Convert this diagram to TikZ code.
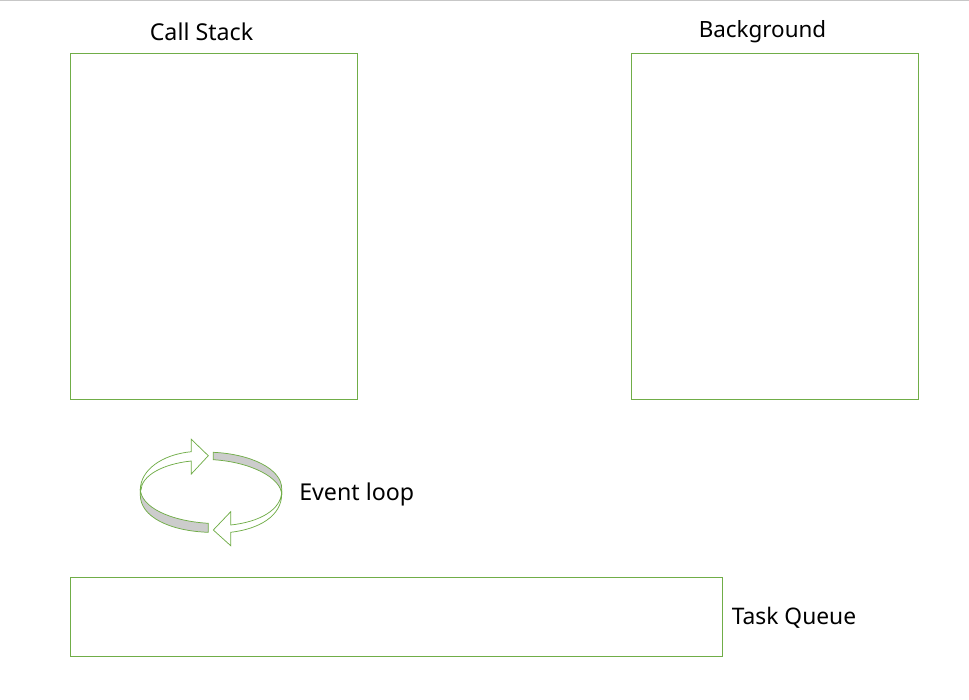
\documentclass[tikz,border=0pt]{standalone}
\usepackage{fontspec}
\setmainfont{Noto Sans}
\definecolor{boxgreen}{HTML}{70AD47}
\definecolor{bandgray}{HTML}{CCCCCC}
\tikzset{
  panel/.style={draw=boxgreen,line width=0.75pt,fill=white,inner sep=0pt,outer sep=0pt,minimum width=0pt},
  caption/.style={font=\fontsize{17.4pt}{21pt}\selectfont,text=black,inner sep=0pt},
  looparrow/.style={draw=boxgreen,line width=0.55pt,fill=white,line join=miter},
  loopband/.style={draw=boxgreen,line width=0.55pt,fill=bandgray,line join=miter}
}
\begin{document}
\begin{tikzpicture}[x=0.75pt,y=-0.75pt]
\useasboundingbox (0,0) rectangle (969,699);
\fill[white] (0,0) rectangle (969,699);
\fill[black!22] (0,0) rectangle (969,1);
% boxes
\node[panel,anchor=north west,minimum width=215.25pt,minimum height=259.5pt] (stack) at (70.5,53.5) {};
\node[panel,anchor=north west,minimum width=215.25pt,minimum height=259.5pt] (bg) at (631.5,53.5) {};
\node[panel,anchor=north west,minimum width=489pt,minimum height=59.25pt] (queue) at (70.5,577.5) {};
% labels
\node[caption] (stacklabel) at (201.5,32) {Call Stack};
\node[caption,font=\fontsize{16.8pt}{21pt}\selectfont] (bglabel) at (762.5,31.5) {Background};
\node[caption,anchor=west] (looplabel) at (299,494) {Event loop};
\node[caption,anchor=west,font=\fontsize{17.1pt}{21pt}\selectfont] (queuelabel) at (731.5,617.5) {Task Queue};
% cycle icon: bands
\path[loopband] (213.3,452.3) .. controls (251,454) and (281.7,469) .. (281.7,488.5)
  -- (281.7,495) .. controls (281.7,478) and (251,462) .. (213.3,459.7) -- cycle;
\path[loopband] (208.3,523.3) .. controls (170,521) and (140.3,507) .. (140.3,488.5)
  -- (140.3,495) .. controls (140.3,517) and (170,531) .. (208.3,532.3) -- cycle;
% cycle icon: arrows
\path[looparrow] (140.3,490) .. controls (140.3,470) and (162,454.5) .. (191.3,451.7)
  -- (191.3,439.3) -- (208.3,455.7) -- (191.3,474) -- (191.3,461)
  .. controls (162,464) and (141.5,476) .. (141,490) -- cycle;
\path[looparrow] (281.7,491) .. controls (281.7,510) and (259,522) .. (230.7,525)
  -- (230.7,511.7) -- (213.3,530) -- (230.7,545.7) -- (230.7,532.3)
  .. controls (259,529) and (281.7,516) .. (281.7,494) -- cycle;
\end{tikzpicture}
\end{document}
